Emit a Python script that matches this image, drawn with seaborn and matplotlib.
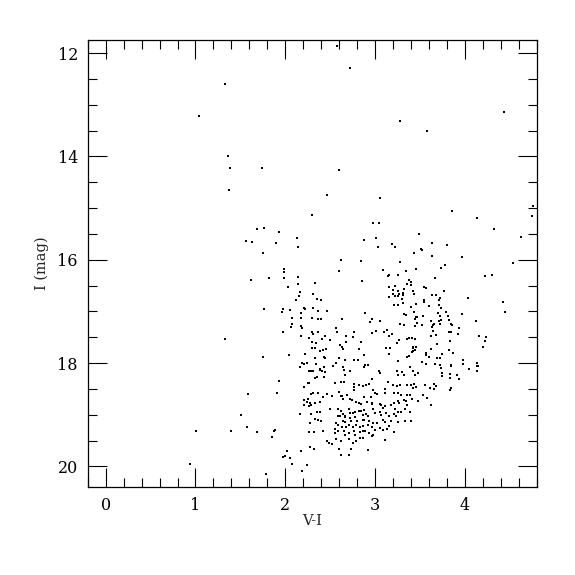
# Colour-magnitude diagram (I vs V-I)
import matplotlib
matplotlib.use("Agg")
import matplotlib.pyplot as plt
import seaborn as sns
import pandas as pd
from matplotlib.ticker import MultipleLocator

# -------------------------------
# DATA  (V-I, I)
# -------------------------------
bright = [
    (2.58, 11.86), (2.72, 12.28), (1.33, 12.60), (1.04, 13.22), (3.28, 13.32),
    (3.58, 13.50), (4.44, 13.13), (1.36, 13.99), (1.39, 14.22), (1.37, 14.65),
    (1.74, 14.22), (2.60, 14.26), (2.47, 14.75), (3.06, 14.80), (4.76, 14.95),
    (3.86, 15.05), (2.30, 15.14), (4.75, 15.15), (4.14, 15.19), (2.98, 15.29),
    (3.04, 15.28), (1.69, 15.40), (1.76, 15.39), (1.93, 15.46), (4.32, 15.40),
    (3.49, 15.51), (1.56, 15.63), (1.63, 15.65), (1.90, 15.67), (2.13, 15.58),
    (2.14, 15.75), (2.88, 15.62), (3.01, 15.58), (3.03, 15.75), (3.19, 15.69),
    (3.22, 15.76), (4.62, 15.56), (3.63, 15.68), (3.80, 15.72), (3.51, 15.80),
    (1.75, 15.87), (3.43, 15.86), (3.52, 15.81), (3.63, 15.93), (3.97, 15.94),
]

blue_side = [
    (1.99, 16.17), (1.99, 16.24), (1.99, 16.36), (1.82, 16.36), (1.62, 16.39),
    (2.03, 16.53), (1.76, 16.95), (1.97, 16.95), (1.96, 17.01), (2.05, 16.98),
    (1.97, 17.40), (1.33, 17.53), (1.75, 17.88), (2.04, 17.84), (1.59, 18.59),
    (1.51, 19.00), (1.57, 19.24), (1.40, 19.31), (1.01, 19.31), (0.94, 19.96),
    (2.26, 18.15), (2.26, 18.38), (2.25, 18.38), (2.21, 18.46), (1.93, 18.34),
    (1.91, 18.58), (2.25, 18.69), (2.21, 18.72), (2.24, 18.76), (2.21, 18.81),
    (2.26, 18.83), (2.16, 18.98), (2.26, 19.33), (1.87, 19.31), (1.89, 19.29),
    (1.69, 19.34), (1.85, 19.43), (2.02, 19.70), (2.18, 19.70), (1.97, 19.81),
    (2.00, 19.79), (2.05, 19.84), (2.27, 19.62), (2.07, 19.95), (2.24, 19.97),
    (2.19, 20.09), (1.78, 20.14),
]

middle = [
    (2.62, 16.00), (2.84, 16.02), (2.60, 16.21), (2.14, 16.34), (2.14, 16.47),
    (2.33, 16.45), (2.85, 16.42), (3.09, 16.20), (3.15, 16.29), (3.14, 16.31),
    (3.25, 16.29), (2.16, 16.63), (2.15, 16.70), (2.31, 16.66), (2.12, 16.78),
    (2.35, 16.76), (2.40, 16.77), (3.16, 16.53), (3.22, 16.51), (3.20, 16.58),
    (3.25, 16.61), (3.20, 16.66), (3.15, 16.72), (3.16, 16.73), (3.22, 16.71),
    (3.26, 16.71), (3.27, 16.66), (2.21, 16.93), (2.22, 16.95), (2.31, 16.93),
    (2.36, 16.99), (2.46, 17.00), (2.18, 17.04), (3.21, 16.87), (3.26, 16.87),
    (2.07, 17.13), (2.17, 17.12), (2.30, 17.13), (2.36, 17.15), (2.40, 17.15),
    (2.63, 17.14), (2.89, 17.04), (2.97, 17.15), (2.94, 17.21), (3.05, 17.18),
    (2.08, 17.24), (2.06, 17.31), (2.17, 17.29), (2.19, 17.33), (2.56, 17.32),
    (2.58, 17.40), (2.76, 17.40), (2.68, 17.47), (2.75, 17.49), (2.96, 17.42),
    (3.01, 17.37), (3.10, 17.40), (3.13, 17.36), (3.19, 17.43), (3.16, 17.48),
    (2.30, 17.40), (2.31, 17.43), (2.36, 17.40), (2.18, 17.47), (2.41, 17.53),
    (2.44, 17.48), (2.50, 17.55), (2.26, 17.52), (2.34, 17.61), (2.30, 17.60),
    (2.61, 17.65), (2.63, 17.69), (2.64, 17.73), (2.68, 17.59), (2.84, 17.60),
    (2.30, 17.71), (2.33, 17.71), (2.39, 17.76), (2.42, 17.75), (2.45, 17.73),
    (2.22, 17.83), (2.43, 17.88), (2.44, 17.91), (2.33, 17.91), (2.60, 17.91),
    (2.67, 17.94), (2.76, 17.94), (2.81, 17.94), (2.82, 17.73), (2.88, 17.84),
    (3.12, 17.70), (3.17, 17.70), (3.15, 17.82), (3.24, 17.62), (3.27, 17.56),
    (3.25, 17.96), (2.19, 17.99), (2.21, 18.02), (2.24, 18.00), (2.16, 18.08),
    (2.34, 18.02), (2.39, 18.11), (2.43, 18.07), (2.53, 18.05), (2.56, 18.00),
    (2.64, 18.07), (2.88, 18.07), (2.89, 18.04), (2.92, 18.04),
]

red_branch = [
    (3.28, 16.04), (3.78, 16.11), (3.73, 16.16), (3.45, 16.18), (3.34, 16.21),
    (4.54, 16.06), (4.22, 16.31), (4.30, 16.29), (3.67, 16.36), (3.38, 16.40),
    (3.40, 16.44), (3.40, 16.48), (3.35, 16.47), (3.55, 16.53), (3.57, 16.55),
    (3.32, 16.56), (3.42, 16.60), (3.43, 16.67), (3.31, 16.64), (3.31, 16.69),
    (3.77, 16.60), (3.63, 16.68), (3.68, 16.69), (3.72, 16.74), (3.71, 16.78),
    (4.03, 16.74), (3.55, 16.78), (3.54, 16.82), (3.30, 16.76), (3.45, 16.86),
    (3.60, 16.90), (3.40, 16.92), (3.31, 16.84), (3.71, 16.87), (3.73, 16.93),
    (4.42, 16.82), (4.45, 17.02), (3.79, 17.01), (3.97, 17.05), (3.43, 17.02),
    (3.34, 17.07), (3.32, 17.05), (3.70, 17.04), (3.72, 17.09), (3.81, 17.08),
    (3.45, 17.10), (3.47, 17.10), (3.53, 17.09), (3.44, 17.15), (3.62, 17.18),
    (3.73, 17.17), (3.71, 17.18), (4.12, 17.18), (3.47, 17.22), (3.82, 17.17),
    (3.28, 17.24), (3.32, 17.27), (3.44, 17.28), (3.52, 17.27), (3.66, 17.24),
    (3.65, 17.27), (3.63, 17.30), (3.84, 17.25), (3.86, 17.26), (3.72, 17.25),
    (3.93, 17.33), (3.65, 17.37), (3.82, 17.39), (3.85, 17.40), (3.92, 17.44),
    (3.62, 17.47), (3.68, 17.45), (3.36, 17.54), (3.38, 17.52), (3.41, 17.51),
    (3.44, 17.53), (3.83, 17.57), (4.16, 17.48), (4.23, 17.49), (4.22, 17.58),
    (4.20, 17.69), (3.69, 17.63), (3.42, 17.68), (3.42, 17.71), (3.44, 17.74),
    (3.42, 17.76), (3.41, 17.78), (3.45, 17.68), (3.62, 17.73), (3.82, 17.74),
    (3.87, 17.80), (3.57, 17.80), (3.57, 17.84), (3.74, 17.82), (3.69, 17.91),
    (3.72, 17.90), (3.60, 17.89), (3.38, 17.86), (3.35, 17.88), (3.52, 17.98),
    (3.57, 18.02), (3.67, 18.01), (3.72, 18.04), (3.73, 18.10), (3.84, 18.03),
    (3.85, 18.05), (3.98, 17.94), (3.98, 18.01), (4.13, 17.99), (4.15, 18.05),
    (4.13, 18.05), (3.39, 18.08), (4.05, 18.11), (3.74, 18.20), (3.75, 18.26),
    (3.83, 18.21), (3.83, 18.28), (3.91, 18.23), (3.93, 18.30), (4.14, 18.16),
    (3.66, 18.40), (3.68, 18.44), (3.66, 18.50), (3.61, 18.49), (3.83, 18.52),
    (3.85, 18.49), (3.62, 18.81),
]

clump_left = [
    (2.31, 18.16), (2.29, 18.16), (2.33, 18.29), (2.35, 18.27), (2.39, 18.13),
    (2.41, 18.15), (2.43, 18.27), (2.44, 18.18), (2.65, 18.13), (2.66, 18.23),
    (2.72, 18.15), (2.55, 18.39), (2.62, 18.37), (2.65, 18.36), (2.76, 18.40),
    (2.76, 18.53), (2.77, 18.47), (2.82, 18.43), (2.86, 18.45), (2.29, 18.60),
    (2.31, 18.58), (2.36, 18.58), (2.42, 18.66), (2.47, 18.59), (2.52, 18.63),
    (2.60, 18.56), (2.62, 18.64), (2.63, 18.64), (2.69, 18.62), (2.64, 18.69),
    (2.72, 18.70), (2.74, 18.72), (2.79, 18.76), (2.82, 18.78), (2.84, 18.80),
    (2.27, 18.78), (2.29, 18.82), (2.33, 18.78), (2.39, 18.76), (2.29, 18.98),
    (2.35, 18.95), (2.39, 18.94), (2.50, 18.89), (2.59, 18.89), (2.62, 18.92),
    (2.64, 18.99), (2.59, 19.02), (2.61, 19.03), (2.66, 19.02), (2.67, 19.04),
    (2.71, 18.89), (2.72, 18.96), (2.75, 18.97), (2.78, 18.95), (2.82, 18.92),
    (2.84, 18.93), (2.72, 19.07), (2.73, 19.12), (2.78, 19.05), (2.80, 19.12),
    (2.86, 19.00), (2.87, 19.10), (2.33, 19.08), (2.36, 19.11), (2.40, 19.12),
    (2.28, 19.16), (2.64, 19.12), (2.67, 19.15), (2.56, 19.16), (2.59, 19.20),
    (2.63, 19.23), (2.68, 19.23), (2.71, 19.20), (2.75, 19.23), (2.79, 19.20),
    (2.83, 19.23), (2.86, 19.21), (2.42, 19.32), (2.32, 19.34), (2.55, 19.28),
    (2.55, 19.36), (2.59, 19.32), (2.65, 19.32), (2.66, 19.39), (2.71, 19.36),
    (2.76, 19.31), (2.78, 19.40), (2.83, 19.34), (2.87, 19.31), (2.46, 19.50),
    (2.49, 19.54), (2.52, 19.56), (2.57, 19.47), (2.62, 19.50), (2.71, 19.47),
    (2.75, 19.54), (2.79, 19.50), (2.83, 19.45), (2.87, 19.45), (2.32, 19.67),
    (2.60, 19.67), (2.73, 19.66), (2.62, 19.78), (2.71, 19.78),
]

clump_right = [
    (3.04, 18.15), (3.06, 18.20), (3.24, 18.15), (3.26, 18.23), (3.30, 18.18),
    (3.32, 18.23), (3.42, 18.16), (3.44, 18.23), (3.48, 18.20), (2.96, 18.31),
    (2.90, 18.42), (2.93, 18.41), (3.14, 18.37), (3.20, 18.42), (3.24, 18.44),
    (3.28, 18.42), (3.35, 18.42), (3.40, 18.42), (3.43, 18.40), (3.45, 18.47),
    (3.42, 18.49), (3.56, 18.42), (2.98, 18.52), (3.00, 18.58), (3.02, 18.60),
    (2.95, 18.65), (2.88, 18.65), (2.91, 18.76), (3.11, 18.50), (3.11, 18.58),
    (3.21, 18.58), (3.25, 18.57), (3.29, 18.61), (3.35, 18.62), (3.39, 18.62),
    (3.41, 18.70), (3.53, 18.62), (3.58, 18.68), (3.48, 18.74), (2.97, 18.78),
    (2.96, 18.80), (3.05, 18.79), (3.07, 18.81), (3.09, 18.87), (3.11, 18.84),
    (3.18, 18.82), (3.21, 18.78), (3.26, 18.74), (3.27, 18.78), (3.32, 18.71),
    (3.34, 18.74), (3.36, 18.81), (3.22, 18.89), (3.25, 18.95), (3.29, 18.94),
    (3.33, 18.89), (3.39, 18.94), (2.88, 18.91), (2.90, 18.99), (2.92, 19.02),
    (2.98, 18.89), (3.00, 18.96), (3.05, 18.94), (3.07, 19.00), (3.12, 18.97),
    (3.16, 19.02), (3.21, 18.98), (3.23, 19.03), (2.88, 19.10), (2.93, 19.13),
    (2.98, 19.16), (3.02, 19.16), (3.09, 19.10), (3.11, 19.15), (3.18, 19.13),
    (3.25, 19.15), (3.33, 19.12), (3.40, 19.12), (2.92, 19.20), (2.96, 19.23),
    (3.00, 19.29), (3.05, 19.26), (3.09, 19.29), (3.13, 19.28), (3.16, 19.21),
    (2.89, 19.32), (2.93, 19.36), (2.96, 19.42), (2.98, 19.39), (3.21, 19.34),
    (3.11, 19.49), (2.92, 19.69),
]

stars = bright + blue_side + middle + red_branch + clump_left + clump_right
df = pd.DataFrame(stars, columns=["vi", "imag"])

# -------------------------------
# PLOT
# -------------------------------
sns.set_theme(style="ticks")
plt.rcParams["font.family"] = ["DejaVu Serif"]

fig = plt.figure(figsize=(5.75, 5.75), dpi=100)
ax = fig.add_axes([0.1525, 0.153, 0.781, 0.777])

sns.scatterplot(data=df, x="vi", y="imag", marker="s", s=3.5,
                color="black", linewidth=0, ax=ax)

ax.set_xlim(-0.2, 4.8)
ax.set_ylim(20.4, 11.75)

ax.xaxis.set_major_locator(MultipleLocator(1))
ax.xaxis.set_minor_locator(MultipleLocator(0.2))
ax.yaxis.set_major_locator(MultipleLocator(2))
ax.yaxis.set_minor_locator(MultipleLocator(0.5))

ax.tick_params(which="both", direction="in", top=True, right=True,
               colors="black", width=0.8, labelsize=11.5)
ax.tick_params(which="major", length=13.5, pad=7)
ax.tick_params(which="minor", length=6.8)
for sp in ax.spines.values():
    sp.set_color("black")
    sp.set_linewidth(0.9)

ax.set_xlabel("V-I", fontsize=10.5, labelpad=0)
ax.set_ylabel("I (mag)", fontsize=10.5, labelpad=6)

fig.savefig("out.png", dpi=100)
plt.close()
